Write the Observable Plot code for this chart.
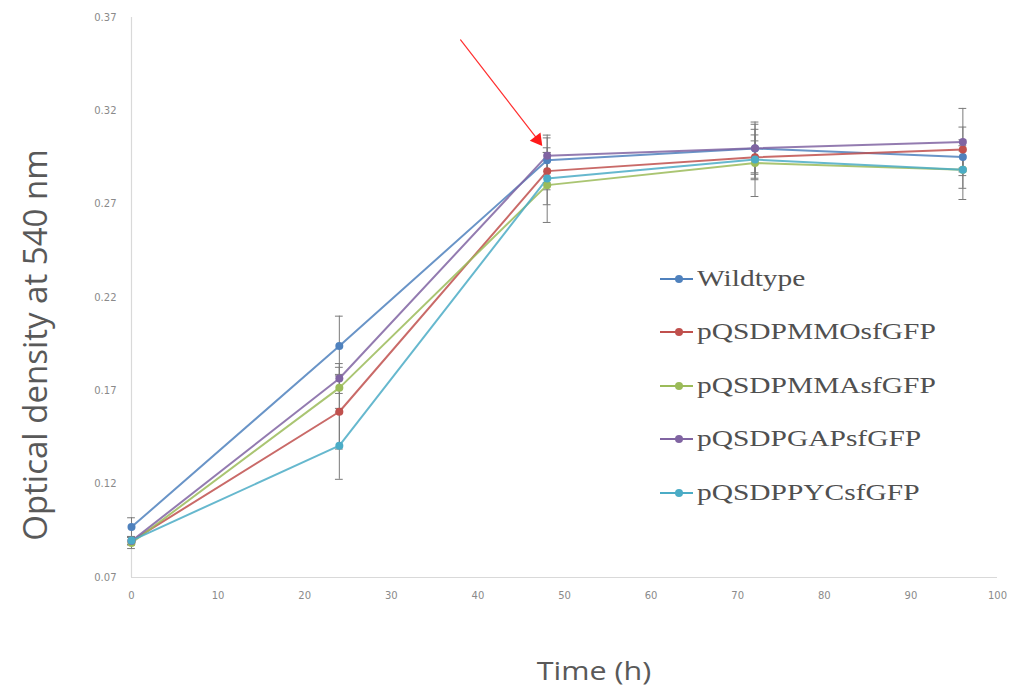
<!DOCTYPE html>
<html><head><meta charset="utf-8">
<script src="https://cdn.jsdelivr.net/npm/d3@7"></script>
<script src="https://cdn.jsdelivr.net/npm/@observablehq/plot@0.6"></script>
<style>
body{margin:0;background:#fff;}
#wrap{position:relative;width:1013px;height:692px;}
#ytitle{position:absolute;left:34px;top:345px;transform:translate(-50%,-50%) rotate(-90deg);font-family:"Open Sans",sans-serif;font-size:33px;color:#595959;white-space:nowrap;}
#xtitle{position:absolute;left:594px;top:670px;transform:translate(-50%,-50%) scaleX(1.22);font-family:"Open Sans",sans-serif;font-size:25px;color:#595959;white-space:nowrap;}
#legend{position:absolute;left:660px;top:252px;font-family:"Liberation Serif",serif;font-size:23px;color:#505050;}
.row{height:53.5px;display:flex;align-items:center;}
.sw{position:relative;width:33px;height:2px;margin-right:4px;}
.sw i{position:absolute;left:15px;top:-3px;width:8px;height:8px;border-radius:50%;}
.lbl{display:inline-block;transform:scaleX(1.28);transform-origin:left center;}
</style></head>
<body><div id="wrap"></div>
<script>
const times = [0, 24, 48, 72, 96];
const seriesNames = ["Wildtype", "pQSDPMMOsfGFP", "pQSDPMMAsfGFP", "pQSDPGAPsfGFP", "pQSDPPYCsfGFP"];
const seriesColors = ["#4F81BD", "#C0504D", "#9BBB59", "#8064A2", "#4BACC6"];
const wildtype = [0.0970, 0.1940, 0.2935, 0.2998, 0.2953];
const pQSDPMMO = [0.0895, 0.1588, 0.2877, 0.2951, 0.2993];
const pQSDPMMA = [0.0885, 0.1716, 0.2802, 0.2921, 0.2885];
const pQSDPGAP = [0.0895, 0.1766, 0.2960, 0.3000, 0.3033];
const pQSDPPYC = [0.0898, 0.1406, 0.2837, 0.2939, 0.2885];
const errWildtype = [0.005, 0.016, 0.012, 0.013, 0.006];
const errMMO = [0.002, 0.020, 0.010, 0.012, 0.012];
const errMMA = [0.003, 0.011, 0.020, 0.018, 0.010];
const errGAP = [0.002, 0.008, 0.011, 0.014, 0.018];
const errPYC = [0.002, 0.018, 0.014, 0.010, 0.016];
const yTicks = [0.07, 0.12, 0.17, 0.22, 0.27, 0.32, 0.37];
const xTicks = [0, 10, 20, 30, 40, 50, 60, 70, 80, 90, 100];
const arrowData = [{x1: 38.0, y1: 0.358, x2: 47.0, y2: 0.3040}];

const values = [wildtype, pQSDPMMO, pQSDPMMA, pQSDPGAP, pQSDPPYC];
const errs = [errWildtype, errMMO, errMMA, errGAP, errPYC];
const data = [];
seriesNames.forEach((s, i) => times.forEach((t, j) => data.push({series: s, t, v: values[i][j], e: errs[i][j]})));

const capHalf = 0.45;
const plot = Plot.plot({
  width: 1013, height: 692,
  marginLeft: 131, marginRight: 16, marginTop: 17, marginBottom: 115,
  style: {fontFamily: "DejaVu Sans", fontSize: "10px", color: "#7f7f7f", background: "#fff"},
  x: {domain: [0, 100], ticks: xTicks, label: null},
  y: {domain: [0.07, 0.37], ticks: yTicks, label: null, tickFormat: d3.format(".2f")},
  color: {domain: seriesNames, range: seriesColors},
  marks: [
    Plot.ruleX([0], {stroke: "#d9d9d9", strokeWidth: 1.2}),
    Plot.ruleY([0.07], {stroke: "#d9d9d9", strokeWidth: 1.2}),
    Plot.axisX({ticks: xTicks, tickSize: 0, tickPadding: 14, fill: "#8a8a8a"}),
    Plot.axisY({ticks: yTicks, tickSize: 0, tickPadding: 15, fill: "#8a8a8a", tickFormat: d3.format(".2f")}),
    Plot.ruleX(data, {x: "t", y1: d => d.v - d.e, y2: d => d.v + d.e, stroke: "#7a7a7a", strokeWidth: 1}),
    Plot.ruleY(data, {y: d => d.v + d.e, x1: d => d.t - capHalf, x2: d => d.t + capHalf, stroke: "#7a7a7a", strokeWidth: 1}),
    Plot.ruleY(data, {y: d => d.v - d.e, x1: d => d.t - capHalf, x2: d => d.t + capHalf, stroke: "#7a7a7a", strokeWidth: 1}),
    Plot.line(data, {x: "t", y: "v", z: "series", stroke: "series", strokeWidth: 2, strokeOpacity: 0.85}),
    Plot.dot(data, {x: "t", y: "v", fill: "series", r: 4}),
    Plot.arrow(arrowData, {x1: "x1", y1: "y1", x2: "x2", y2: "y2", stroke: "#ff3030", strokeWidth: 1.2, headLength: 0}),
    Plot.dot(arrowData, {x: "x2", y: "y2", symbol: "triangle", r: 5, fill: "#ff1a1a", stroke: "none", rotate: 142.6, dx: -1, dy: -1})
  ]
});
const wrap = document.getElementById("wrap");
wrap.appendChild(plot);
const yt = document.createElement("div"); yt.id = "ytitle"; yt.textContent = "Optical density at 540 nm"; wrap.appendChild(yt);
const xt = document.createElement("div"); xt.id = "xtitle"; xt.textContent = "Time (h)"; wrap.appendChild(xt);
const lg = document.createElement("div"); lg.id = "legend";
seriesNames.forEach((s, i) => {
  const row = document.createElement("div"); row.className = "row";
  row.innerHTML = `<div class="sw" style="background:${seriesColors[i]}"><i style="background:${seriesColors[i]}"></i></div><span class="lbl">${s}</span>`;
  lg.appendChild(row);
});
wrap.appendChild(lg);
</script></body></html>
